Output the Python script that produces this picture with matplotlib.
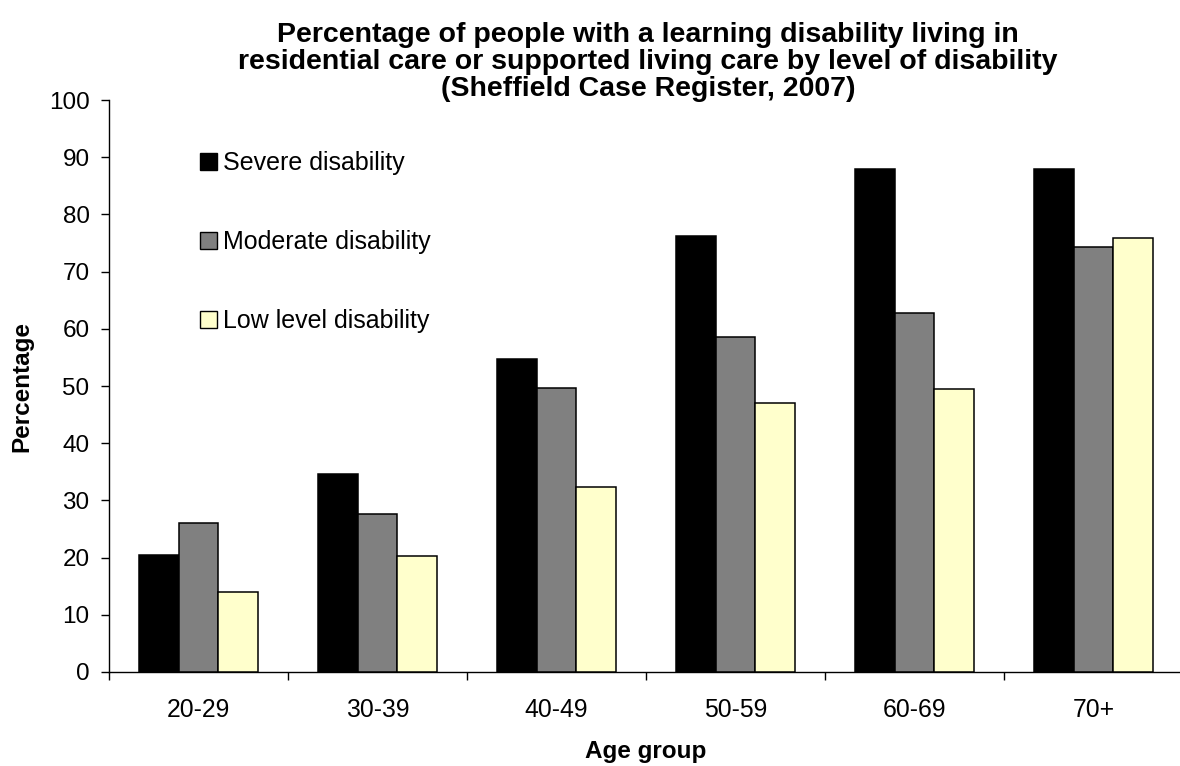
import matplotlib
matplotlib.use("Agg")
import matplotlib.pyplot as plt
import numpy as np
from matplotlib.patches import Patch

plt.rcParams['font.family'] = ['Liberation Sans', 'DejaVu Sans']

age_groups = ["20-29", "30-39", "40-49", "50-59", "60-69", "70+"]
severe = [20.5, 34.7, 54.7, 76.2, 88.0, 87.9]
moderate = [26.1, 27.6, 49.6, 58.6, 62.8, 74.3]
low_level = [14.0, 20.2, 32.3, 47.1, 49.4, 75.8]
series_names = ["Severe disability", "Moderate disability", "Low level disability"]
series_colors = ["#000000", "#808080", "#FFFFCC"]

W, H = 1180, 766
fig = plt.figure(figsize=(W / 100, H / 100), dpi=100)
ax = fig.add_axes([109 / W, 1 - 672 / H, (1183 - 109) / W, (672 - 100) / H])

centers = np.arange(len(age_groups)) + 0.5
bw = 0.222
for i, (vals, col) in enumerate(zip([severe, moderate, low_level], series_colors)):
    ax.bar(centers + (i - 1) * bw, vals, width=bw, color=col,
           edgecolor="black", linewidth=1.1, zorder=3)

ax.set_xlim(0, len(age_groups))
ax.set_ylim(0, 100)
ax.set_yticks(np.arange(0, 101, 10))
ax.tick_params(axis='y', labelsize=17.5, length=6, width=1, direction='out', pad=8)

ax.set_xticks(np.arange(0, len(age_groups) + 1))
ax.set_xticklabels([])
ax.set_xticks(centers, minor=True)
ax.set_xticklabels(age_groups, minor=True)
ax.tick_params(axis='x', which='major', length=6, width=1, direction='out')
ax.tick_params(axis='x', which='minor', length=0, labelsize=17.8, pad=19)

for s in ['top', 'right']:
    ax.spines[s].set_visible(False)
ax.spines['left'].set_linewidth(1)
ax.spines['bottom'].set_linewidth(1)

ax.set_xlabel("Age group", fontsize=17.5, fontweight='bold', labelpad=13)
ax.set_ylabel("Percentage", fontsize=17.5, fontweight='bold', labelpad=11)

fig.text(648 / W, 1 - 62 / H,
         "Percentage of people with a learning disability living in\n"
         "residential care or supported living care by level of disability\n"
         "(Sheffield Case Register, 2007)",
         ha='center', va='center', fontsize=20.5, fontweight='bold', linespacing=1.05)

handles = [Patch(facecolor=c, edgecolor='black', linewidth=1.0) for c in series_colors]
ax.legend(handles, series_names, loc='upper left', bbox_to_anchor=(0.0757, 0.928),
          frameon=False, fontsize=18, labelspacing=2.2, handlelength=0.67,
          handleheight=0.67, handletextpad=0.22, borderaxespad=0)

fig.savefig("out.png", dpi=100, facecolor='white')
